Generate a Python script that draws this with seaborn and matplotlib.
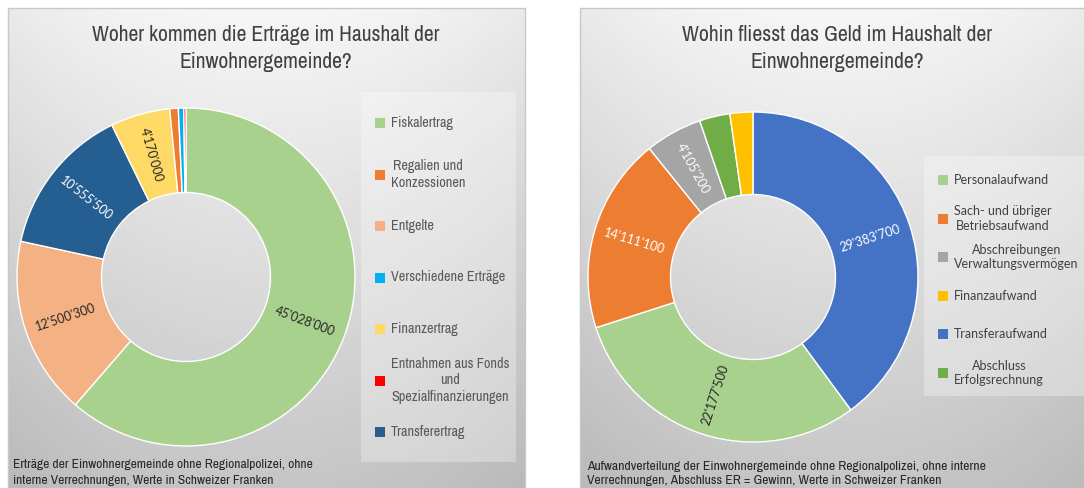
# Two doughnut charts: income and expenses of the Einwohnergemeinde

import matplotlib
matplotlib.use("Agg")
import matplotlib.pyplot as plt
from matplotlib.patches import Rectangle
from matplotlib import font_manager
import numpy as np
import seaborn as sns

sns.set_theme(style="white")
plt.rcParams["font.family"] = ["Lato", "DejaVu Sans"]

# pick a narrow face if there is one (the original uses a condensed font)
fonts = font_manager.fontManager.ttflist
NARROW, STRETCH = "Liberation Sans", "normal"
for f in fonts:
    if "narrow" in f.name.lower() or "condensed" in f.name.lower():
        NARROW, STRETCH = f.name, "normal"
        break
else:
    for f in fonts:
        if str(f.stretch) in ("condensed", "semi-condensed") and f.name in (
                "DejaVu Sans", "Noto Sans", "Open Sans", "Roboto", "Liberation Sans"):
            NARROW, STRETCH = f.name, f.stretch
            break

# --- data -------------------------------------------------------------------
income_labels = ["Fiskalertrag", "Regalien und\nKonzessionen", "Entgelte",
                 "Verschiedene Erträge", "Finanzertrag",
                 "Entnahmen aus Fonds\nund\nSpezialfinanzierungen", "Transferertrag"]
income_values = [45028000, 600000, 12500300, 380000, 4170000, 150000, 10555500]
income_colors = ["#A9D18E", "#ED7D31", "#F4B183", "#00B0F0", "#FFD966", "#FF0000", "#255E91"]
income_ring_order = [0, 2, 6, 4, 1, 3, 5]   # clockwise from 12 o'clock

expense_labels = ["Personalaufwand", "Sach- und übriger\nBetriebsaufwand",
                  "Abschreibungen\nVerwaltungsvermögen", "Finanzaufwand",
                  "Transferaufwand", "Abschluss\nErfolgsrechnung"]
expense_values = [22177500, 14111100, 4105200, 1650000, 29383700, 2200000]
expense_colors = ["#A9D18E", "#ED7D31", "#A5A5A5", "#FFC000", "#4472C4", "#70AD47"]
expense_ring_order = [4, 0, 1, 2, 5, 3]

income_title = ["Woher kommen die Erträge im Haushalt der", "Einwohnergemeinde?"]
expense_title = ["Wohin fliesst das Geld im Haushalt der", "Einwohnergemeinde?"]
income_note = ["Erträge der Einwohnergemeinde ohne Regionalpolizei, ohne",
               "interne Verrechnungen, Werte in Schweizer Franken"]
expense_note = ["Aufwandverteilung der Einwohnergemeinde ohne Regionalpolizei, ohne interne",
                "Verrechnungen, Abschluss ER = Gewinn, Werte in Schweizer Franken"]

# fills that get dark value labels, the rest get white ones
LIGHT_FILLS = {"#A9D18E", "#F4B183", "#FFD966"}

W, H = 1084, 488
fig = plt.figure(figsize=(W / 100, H / 100), dpi=100)
fig.patch.set_facecolor("white")
renderer = fig.canvas.get_renderer()


def fit_size(text, target_px, **kw):
    # font size that makes `text` about target_px wide
    t = fig.text(0, 0, text, fontsize=10, **kw)
    w = t.get_window_extent(renderer).width
    t.remove()
    return 10 * target_px / w


def px_axes(x, y, w, h):
    return fig.add_axes([x / W, 1 - (y + h) / H, w / W, h / H])


def px_rect(x, y, w, h, **kw):
    fig.add_artist(Rectangle((x / W, 1 - (y + h) / H), w / W, h / H,
                             transform=fig.transFigure, **kw))


def panel(x, y, w, h):
    ax = px_axes(x, y, w, h)
    yy, xx = np.mgrid[0:1:240j, 0:1:240j]
    g = 0.965 - 0.19 * yy - 0.05 * (2 * (xx - 0.5)) ** 2
    ax.imshow(g, cmap="gray", vmin=0, vmax=1, aspect="auto", interpolation="bilinear")
    ax.set_axis_off()
    px_rect(x, y, w, h, fill=False, edgecolor="#c8c8c8", lw=1)


def donut(cx, cy, r, values, colors, order):
    ax = px_axes(cx - r, cy - r, 2 * r, 2 * r)
    vals = [values[i] for i in order]
    cols = [colors[i] for i in order]
    wedges, _ = ax.pie(vals, colors=cols, startangle=90, counterclock=False,
                       wedgeprops=dict(width=0.5, edgecolor="white", linewidth=1.0))
    ax.set_xlim(-1, 1)
    ax.set_ylim(-1, 1)
    ax.patch.set_alpha(0)
    for w, v, c in zip(wedges, vals, cols):
        if v < 3000000:
            continue
        mid = (w.theta1 + w.theta2) / 2
        ang = (mid + 180) % 360 - 180
        if ang > 90:
            rot = ang - 180
        elif ang < -90:
            rot = ang + 180
        else:
            rot = ang
        ax.text(0.75 * np.cos(np.radians(mid)), 0.75 * np.sin(np.radians(mid)),
                f"{v:,}".replace(",", "'"), rotation=rot, rotation_mode="anchor",
                ha="center", va="center", fontsize=9,
                color="#262626" if c in LIGHT_FILLS else "white")


def legend(box, x_sw, x_txt, y0, step, labels, colors, size, tcolor, **font):
    px_rect(*box, facecolor="white", alpha=0.3, edgecolor="none")
    for i, (lab, col) in enumerate(zip(labels, colors)):
        yc = y0 + i * step
        px_rect(x_sw, yc - 5, 10, 10, facecolor=col, edgecolor="none")
        fig.text(x_txt / W, 1 - yc / H, lab, ha="left", va="center",
                 multialignment="center", color=tcolor, fontsize=size,
                 linespacing=1.25, **font)


def lines(x, ys, texts, ha, size, color, **font):
    for y, s in zip(ys, texts):
        fig.text(x / W, 1 - y / H, s, ha=ha, va="center", fontsize=size,
                 color=color, **font)


nfont = dict(family=[NARROW, "DejaVu Sans"], fontstretch=STRETCH)
lfont = dict(family=["Lato", "DejaVu Sans"])

# left: income
panel(8, 8, 517, 480)
donut(186, 277, 169, income_values, income_colors, income_ring_order)
legend((361, 92, 155, 370), 375, 391, 123, 51.5, income_labels, income_colors,
       fit_size("Verschiedene Erträge", 114, **nfont), "#595959", **nfont)
lines(266, [35, 62], income_title, "center",
      fit_size(income_title[0], 351, **nfont), "#404040", **nfont)
lines(13, [465, 481], income_note, "left",
      fit_size(income_note[0], 300, **nfont), "#262626", **nfont)

# right: expenses
panel(580, 8, 520, 480)
donut(753, 277, 165, expense_values, expense_colors, expense_ring_order)
legend((924, 156, 170, 240), 938, 954, 180, 38.6, expense_labels, expense_colors,
       fit_size("Verwaltungsvermögen", 124, **lfont), "#404040", **lfont)
lines(837, [35, 62], expense_title, "center",
      fit_size(expense_title[0], 312, **nfont), "#404040", **nfont)
lines(587, [466, 481], expense_note, "left",
      fit_size(expense_note[0], 396, **nfont), "#262626", **nfont)

fig.savefig("out.png", dpi=100)
